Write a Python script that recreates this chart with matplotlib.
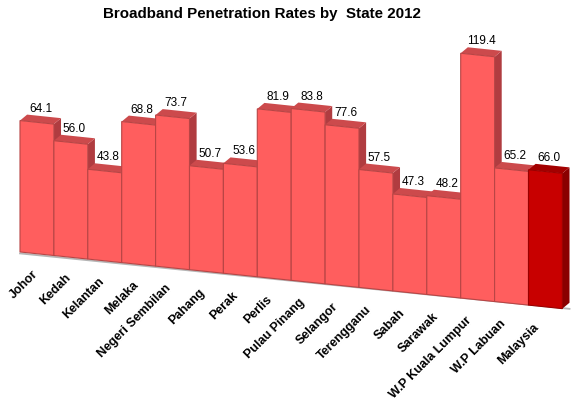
import numpy as np
import matplotlib
matplotlib.use("Agg")
import matplotlib.pyplot as plt
from matplotlib.transforms import Affine2D, offset_copy

plt.rcParams['font.family'] = ['Liberation Sans', 'DejaVu Sans']

states = ["Johor", "Kedah", "Kelantan", "Melaka", "Negeri Sembilan", "Pahang",
          "Perak", "Perlis", "Pulau Pinang", "Selangor", "Terengganu", "Sabah",
          "Sarawak", "W.P Kuala Lumpur", "W.P Labuan", "Malaysia"]
rates = [64.1, 56.0, 43.8, 68.8, 73.7, 50.7, 53.6, 81.9, 83.8, 77.6, 57.5,
         47.3, 48.2, 119.4, 65.2, 66.0]
highlight = "Malaysia"

# colours for the three visible faces
front_c, top_c, side_c = "#ff5e5e", "#cc4a4c", "#b03c40"
front_hi, top_hi, side_hi = "#c80000", "#a30000", "#8a0000"

# pseudo 3d look: floor slopes down to the right
k = 1.728          # value units lost per bar going right
dx = 0.21          # depth shift in x (bar widths)
dy = 2.9 + k * dx  # depth shift in y (value units, before skew)

fig = plt.figure(figsize=(5.79, 4.09), dpi=100)
ax = fig.add_axes([0, 0, 1, 1])
ax.set_xlim(-1.09, 15.99)
ax.set_ylim(-76.6, 122.9)
ax.axis("off")

skew = Affine2D(np.array([[1, 0, 0], [-k, 1, -k * 0.5], [0, 0, 1]])) + ax.transData

x = np.arange(len(states))

# floor edge
ax.plot([-0.5, len(states) - 0.5 + dx], [-0.7, -0.7 + dy * 0.3], color="#b5b5b5",
        lw=1.3, transform=skew, zorder=0)

bars = ax.bar(x, rates, width=1.0, transform=skew, linewidth=0.8)

for i, (name, v, rect) in enumerate(zip(states, rates, bars)):
    hi = name == highlight
    fc = front_hi if hi else front_c
    tc = top_hi if hi else top_c
    sc = side_hi if hi else side_c
    z = 1 + i * 0.1
    # right side face
    ax.fill([i + 0.5, i + 0.5 + dx, i + 0.5 + dx, i + 0.5],
            [0, dy, v + dy, v], color=sc, lw=0, transform=skew, zorder=z)
    # top face
    ax.fill([i - 0.5, i + 0.5, i + 0.5 + dx, i - 0.5 + dx],
            [v, v, v + dy, v + dy], color=tc, lw=0, transform=skew, zorder=z + 0.01)
    rect.set_facecolor(fc)
    rect.set_edgecolor("#b84545" if not hi else "#9a0000")
    rect.set_zorder(z + 0.02)

    ax.text(i + dx / 2, v + dy, f"{v:.1f}", ha="center", va="bottom",
            fontsize=8.5, zorder=5,
            transform=offset_copy(skew, fig=fig, x=0, y=1.0, units="points"))

    lab_t = offset_copy(skew, fig=fig, x=-(1 + 0.5 * i) * 0.72,
                        y=-19 * 0.72, units="points")
    ax.text(i, 0, name, rotation=45, rotation_mode="anchor", ha="right",
            va="center", fontsize=9, fontweight="bold", transform=lab_t)

fig.text(0.453, 0.965, "Broadband Penetration Rates by  State 2012",
         ha="center", va="center", fontsize=10.9, fontweight="bold")

fig.savefig("out.png", dpi=100)
